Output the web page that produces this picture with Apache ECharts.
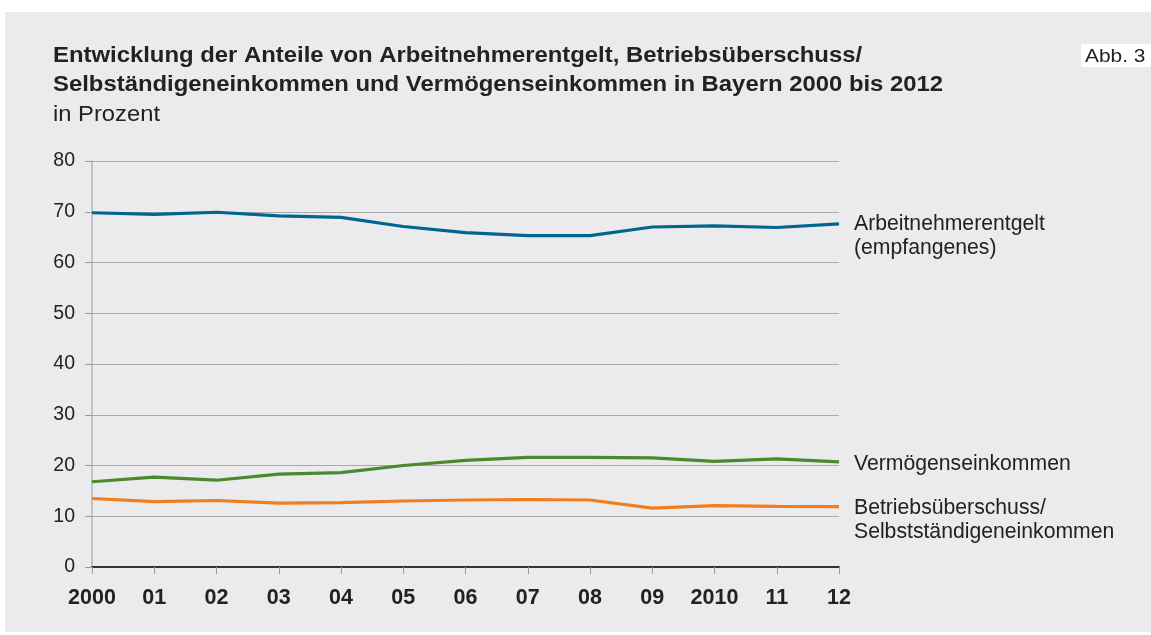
<!DOCTYPE html>
<html><head><meta charset="utf-8">
<script src="https://cdn.jsdelivr.net/npm/echarts@6/dist/echarts.min.js"></script>
<style>html,body{margin:0;padding:0;background:#fff}#c{width:1151px;height:635px}</style>
</head><body><div id="c"></div>
<script>
const categories = ['2000','01','02','03','04','05','06','07','08','09','2010','11','12'];
const arbeitnehmer = [69.8,69.5,69.9,69.2,68.9,67.1,65.9,65.3,65.3,67.0,67.2,66.9,67.6];
const vermoegen = [16.8,17.7,17.1,18.3,18.6,20.0,21.0,21.6,21.6,21.5,20.8,21.3,20.7];
const betrieb = [13.5,12.9,13.1,12.6,12.7,13.0,13.2,13.3,13.2,11.6,12.1,11.95,11.9];
const yTicks = [0,10,20,30,40,50,60,70,80];

const FONT = '"Liberation Sans", Arial, Helvetica, sans-serif';
const chart = echarts.init(document.getElementById('c'));
function endLbl(text, dy) {
  return {show:true, formatter:text, distance:15, offset:[0,dy], color:'#222',
    fontFamily:FONT, fontSize:21.2, lineHeight:24, align:'left'};
}
chart.setOption({
  animation:false,
  backgroundColor:'#fff',
  graphic:[
    {type:'rect', left:5, top:12, shape:{width:1146, height:620}, style:{fill:'#ebebee'}, z:-10},
    {type:'rect', left:1081, top:44, shape:{width:70, height:23}, style:{fill:'#fff'}, z:-5},
    {type:'text', x:1085, y:47, scaleX:1.1, style:{text:'Abb. 3', font:'19px '+FONT, fill:'#222'}},
    {type:'text', x:53, y:41, scaleX:1.085, style:{text:'Entwicklung der Anteile von Arbeitnehmerentgelt, Betriebsüberschuss/\nSelbständigeneinkommen und Vermögenseinkommen in Bayern 2000 bis 2012', font:'bold 22px '+FONT, lineHeight:29, fill:'#222'}},
    {type:'text', x:53, y:104, scaleX:1.08, style:{text:'in Prozent', font:'22px '+FONT, fill:'#222'}}
  ],
  grid:{left:92, right:312, top:161, bottom:68, containLabel:false},
  xAxis:{type:'category', data:categories, boundaryGap:false,
    axisLine:{show:true, lineStyle:{color:'#333', width:2}},
    axisTick:{show:true, length:7, lineStyle:{color:'#999'}},
    axisLabel:{color:'#222', fontFamily:FONT, fontSize:21.5, fontWeight:'bold', margin:20}},
  yAxis:{type:'value', min:0, max:80, interval:10,
    axisLine:{show:true, lineStyle:{color:'#b4b4b4', width:1.5}},
    axisTick:{show:true, length:7, lineStyle:{color:'#999'}},
    axisLabel:{color:'#222', fontFamily:FONT, fontSize:19.5, margin:17,
      formatter:v => yTicks.includes(v) ? String(v) : ''},
    splitLine:{show:true, lineStyle:{color:'#aaa', width:1}}},
  series:[
    {type:'line', name:'Arbeitnehmerentgelt', data:arbeitnehmer, symbol:'none',
      lineStyle:{color:'#00668f', width:3.2}, endLabel:endLbl('Arbeitnehmerentgelt\n(empfangenes)', 12)},
    {type:'line', name:'Vermögenseinkommen', data:vermoegen, symbol:'none',
      lineStyle:{color:'#4a8a2e', width:3.2}, endLabel:endLbl('Vermögenseinkommen', 2)},
    {type:'line', name:'Betriebsüberschuss', data:betrieb, symbol:'none',
      lineStyle:{color:'#f07d1f', width:3.2}, endLabel:endLbl('Betriebsüberschuss/\nSelbstständigeneinkommen', 13.5)}
  ]
});
</script></body></html>
